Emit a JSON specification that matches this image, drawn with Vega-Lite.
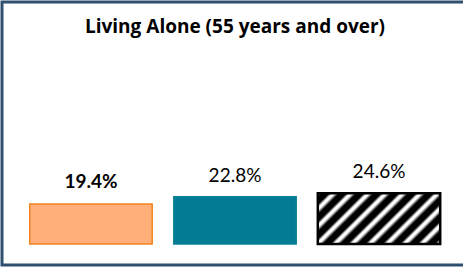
{
  "$schema": "https://vega.github.io/schema/vega-lite/v6.json",
  "width": 466,
  "height": 263,
  "autosize": {"type": "none"},
  "padding": {"left": 2, "top": 2, "right": 0, "bottom": 2},
  "background": "white",
  "config": {"view": {"stroke": "#2E4F6E", "strokeWidth": 3}, "font": "Lato"},
  "title": {"text": "Living Alone (55 years and over)", "fontSize": 19, "fontWeight": "bold", "color": "#000000", "anchor": "middle", "offset": -35, "font": "Open Sans"},
  "data": {"values": [
    {"group": "A", "value": 19.4, "label": "19.4%"},
    {"group": "B", "value": 22.8, "label": "22.8%"},
    {"group": "C", "value": 24.6, "label": "24.6%"}
  ]},
  "encoding": {
    "x": {"field": "group", "type": "nominal", "sort": null, "axis": null, "scale": {"paddingInner": 0.15, "paddingOuter": 0.193}},
    "y": {"field": "value", "type": "quantitative", "axis": null, "scale": {"domain": [-10.1, 116.9], "nice": false, "zero": false}}
  },
  "layer": [
    {
      "mark": {"type": "bar", "strokeWidth": 1.5},
      "encoding": {
        "fill": {"field": "group", "type": "nominal", "legend": null, "scale": {"domain": ["A", "B", "C"], "range": ["#FFB07A", "#037B94", "#FFFFFF"]}},
        "stroke": {"field": "group", "type": "nominal", "legend": null, "scale": {"domain": ["A", "B", "C"], "range": ["#F5821F", "#0B8198", "#000000"]}}
      }
    },
    {
      "transform": [{"filter": "datum.group === 'C'"}],
      "mark": {
        "type": "bar",
        "stroke": "#000000",
        "strokeWidth": 2.5,
        "fill": {
          "gradient": "linear", "x1": 0, "y1": 0, "x2": 1.207, "y2": 0.505,
          "stops": [
            {"offset": 0, "color": "white"}, {"offset": 0.025, "color": "black"}, {"offset": 0.065, "color": "black"}, {"offset": 0.085, "color": "white"},
            {"offset": 0.1, "color": "white"}, {"offset": 0.125, "color": "black"}, {"offset": 0.165, "color": "black"}, {"offset": 0.185, "color": "white"},
            {"offset": 0.2, "color": "white"}, {"offset": 0.225, "color": "black"}, {"offset": 0.265, "color": "black"}, {"offset": 0.285, "color": "white"},
            {"offset": 0.3, "color": "white"}, {"offset": 0.325, "color": "black"}, {"offset": 0.365, "color": "black"}, {"offset": 0.385, "color": "white"},
            {"offset": 0.4, "color": "white"}, {"offset": 0.425, "color": "black"}, {"offset": 0.465, "color": "black"}, {"offset": 0.485, "color": "white"},
            {"offset": 0.5, "color": "white"}, {"offset": 0.525, "color": "black"}, {"offset": 0.565, "color": "black"}, {"offset": 0.585, "color": "white"},
            {"offset": 0.6, "color": "white"}, {"offset": 0.625, "color": "black"}, {"offset": 0.665, "color": "black"}, {"offset": 0.685, "color": "white"},
            {"offset": 0.7, "color": "white"}, {"offset": 0.725, "color": "black"}, {"offset": 0.765, "color": "black"}, {"offset": 0.785, "color": "white"},
            {"offset": 0.8, "color": "white"}, {"offset": 0.825, "color": "black"}, {"offset": 0.865, "color": "black"}, {"offset": 0.885, "color": "white"},
            {"offset": 0.9, "color": "white"}, {"offset": 0.925, "color": "black"}, {"offset": 0.965, "color": "black"}, {"offset": 0.985, "color": "white"},
            {"offset": 1, "color": "white"}
          ]
        }
      }
    },
    {
      "transform": [{"filter": "datum.group === 'A'"}],
      "mark": {"type": "text", "baseline": "alphabetic", "dy": -16, "fontSize": 19, "fontWeight": "bold", "color": "#000000"},
      "encoding": {"text": {"field": "label", "type": "nominal"}}
    },
    {
      "transform": [{"filter": "datum.group !== 'A'"}],
      "mark": {"type": "text", "baseline": "alphabetic", "dy": -15, "fontSize": 19, "fontWeight": "normal", "color": "#000000"},
      "encoding": {"text": {"field": "label", "type": "nominal"}}
    }
  ]
}
